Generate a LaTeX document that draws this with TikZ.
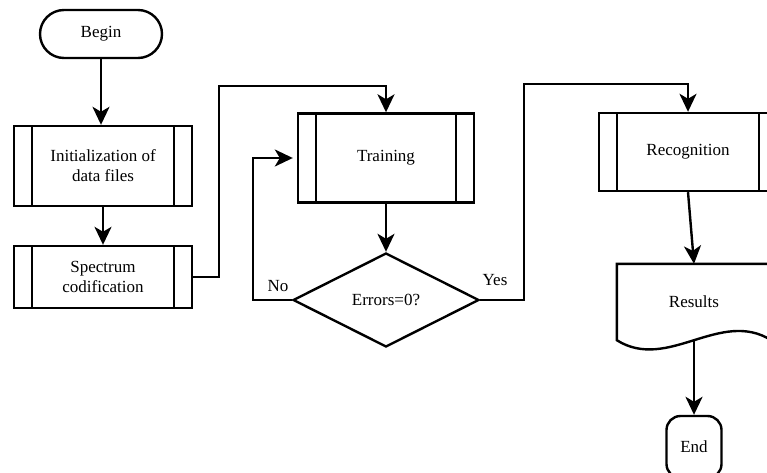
\documentclass[tikz,border=0pt]{standalone}
\usepackage{fontspec}
\setmainfont{Liberation Serif}
\usetikzlibrary{arrows.meta,shapes.geometric}

\tikzset{
	conn/.style={line width=2.4pt},
	arr/.style={line width=2.4pt, -{Stealth[length=18pt,width=17pt,inset=5pt]}},
	term/.style={draw, line width=2.4pt, rounded corners=24pt, minimum width=122pt, minimum height=48pt},
	proc/.style={draw, line width=2.4pt, minimum width=178pt, align=center, inner sep=0pt,
		path picture={
			\draw[line width=2.4pt] ([xshift=18pt]path picture bounding box.north west) -- ([xshift=18pt]path picture bounding box.south west);
			\draw[line width=2.4pt] ([xshift=-18pt]path picture bounding box.north east) -- ([xshift=-18pt]path picture bounding box.south east);
		}},
	dec/.style={draw, line width=2.4pt, diamond, aspect=2, minimum width=186pt, minimum height=94pt, inner sep=0pt}
}

\begin{document}
\begin{tikzpicture}[x=1pt, y=-1pt, every node/.style={font=\fontsize{17}{20}\selectfont}]
	\useasboundingbox (0,0) rectangle (767,473);
	\clip (0,0) rectangle (767,473);

	\node[term] at (101,34) (BEGIN){Begin};
	\node[proc, minimum height=80pt, below of=BEGIN, node distance=132pt, xshift=2pt](INIT){Initialization of\\data files};
	\node[proc, minimum height=62pt, below of=INIT, node distance=111pt](SPEC){Spectrum\\codification};

	\draw[arr] (BEGIN) -- (BEGIN |- INIT.north);
	\draw[arr] (INIT) -- (SPEC);

	\node[proc, minimum width=176pt, minimum height=89pt, right of=INIT, node distance=283pt, yshift=8pt](TRAIN){Training};
	\node[dec, below of=TRAIN, node distance=142pt](ERR){Errors=0?};

	\coordinate (C1) at (219,86);
	\draw[arr] (SPEC.east) -| (C1) -| (TRAIN.north);
	\draw[arr] (TRAIN) -- (ERR);

	\coordinate (C2) at (253,300);
	\draw[arr] (ERR.west) -- (C2) |- ([xshift=-4pt]TRAIN.west);
	\node at (278,286) (NO){No};

	\node[proc, minimum height=78pt, right of=TRAIN, node distance=302pt, yshift=6pt](RECOG){Recognition};

	\coordinate (C3) at (524,84);
	\draw[arr] (ERR.east) -| (C3) -| (RECOG.north);
	\node at (495,280) (YES){Yes};

	\node[minimum width=154pt, minimum height=76pt, below of=RECOG, node distance=150pt, xshift=6pt](RES){Results};
	\draw[conn] (RES.south west) -- (RES.north west) -- (RES.north east) -- (RES.south east)
		.. controls +(-51,-32) and +(51,32) .. (RES.south west) -- cycle;
	\draw[arr] (RECOG.south) -- (RES.north);

	\node[draw, line width=2.4pt, rounded corners=14pt, minimum width=55pt, minimum height=62pt, below of=RES, node distance=145pt](END){End};
	\draw[arr] (RES.south) -- (END);
\end{tikzpicture}
\end{document}
